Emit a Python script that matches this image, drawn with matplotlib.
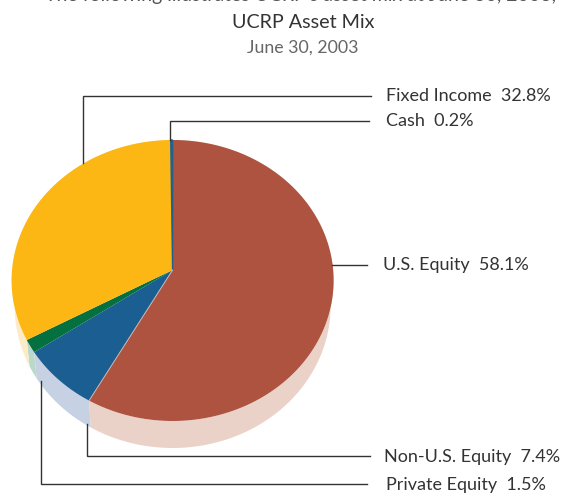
import numpy as np
import matplotlib
matplotlib.use("Agg")
import matplotlib.pyplot as plt

plt.rcParams['font.family'] = ['Lato', 'DejaVu Sans']

# clockwise from the top of the pie
categories = ["U.S. Equity", "Non-U.S. Equity", "Private Equity", "Fixed Income", "Cash"]
shares = [58.1, 7.4, 1.5, 32.8, 0.2]
top_colors = ["#AD5340", "#1B5E91", "#04703F", "#FDB714", "#22618F"]
side_colors = ["#EBD2C9", "#C6D1E3", "#BBD9CA", "#FDEBC8", "#C6D1E3"]

# pie geometry in pixels (tilted, so the apex sits above the rim's centre)
cx = 172.6
rim_cy, rim_rx, rim_ry = 280.5, 161, 140.5
apex_y = 270
base_cy, base_rx, base_ry = 306, 158, 142

fig = plt.figure(figsize=(5.61, 4.93), dpi=100)
ax = fig.add_axes([0, 0, 1, 1])
ax.set_xlim(0, 561)
ax.set_ylim(493, 0)
ax.axis("off")


def rim_angle(pct):
    # cast a ray from the apex and see where it hits the rim ellipse
    theta = np.radians(pct * 3.6)
    dx, dy = np.sin(theta), -np.cos(theta)
    y0 = (apex_y - rim_cy) / rim_ry
    b = y0 * dy
    t = -b + np.sqrt(b * b - (y0 * y0 - 1))
    return np.arctan2(t * dx, -(y0 + t * dy))


def ellipse_pts(a, cy, rx, ry):
    return cx + rx * np.sin(a), cy - ry * np.cos(a)


edges = np.concatenate([[0], np.cumsum(shares)])
for i in range(len(shares)):
    a0 = rim_angle(edges[i])
    a1 = rim_angle(edges[i + 1])
    if a1 < a0:
        a1 += 2 * np.pi
    a = np.linspace(a0, a1, 120)
    x1, y1 = ellipse_pts(a, rim_cy, rim_rx, rim_ry)
    x2, y2 = ellipse_pts(a[::-1], base_cy, base_rx, base_ry)
    ax.fill(np.r_[x1, x2], np.r_[y1, y2], color=side_colors[i], lw=0, zorder=1)

for i in range(len(shares)):
    a0 = rim_angle(edges[i])
    a1 = rim_angle(edges[i + 1])
    if a1 < a0:
        a1 += 2 * np.pi
    a = np.linspace(a0, a1, 120)
    x1, y1 = ellipse_pts(a, rim_cy, rim_rx, rim_ry)
    # the cash slice is so thin it needs an outline to show at all
    width = 1.0 if categories[i] == "Cash" else 0
    ax.fill(np.r_[cx, x1], np.r_[apex_y, y1], color=top_colors[i], lw=width, zorder=2)

# pale seam between U.S. and Non-U.S. equity
sx, sy = ellipse_pts(rim_angle(edges[1]), rim_cy, rim_rx, rim_ry)
ax.plot([cx, sx], [apex_y, sy], color="#CDB6B0", lw=0.7, zorder=3)

# leader lines
line_color = "#333333"
leaders = [
    ([83, 83, 371], [163, 96, 96]),
    ([170, 170, 369], [140, 120.5, 120.5]),
    ([332, 367], [265, 265]),
    ([87, 87, 370], [424, 456, 456]),
    ([41, 41, 367], [381, 483.5, 483.5]),
]
for xs, ys in leaders:
    ax.plot(xs, ys, color=line_color, lw=1.0, solid_joinstyle="miter", zorder=4)

# labels
text_color = "#333333"
labels = ["Fixed Income  32.8%", "Cash  0.2%", "U.S. Equity  58.1%",
          "Non-U.S. Equity  7.4%", "Private Equity  1.5%"]
label_x = [386, 386, 383, 384, 386]
label_y = [96, 121, 265, 457, 485]
for s, x, y in zip(labels, label_x, label_y):
    ax.text(x, y, s, fontsize=13.0, color=text_color, ha="left", va="center")

ax.text(303, 23, "UCRP Asset Mix", fontsize=14.2, color=text_color, ha="center", va="center")
ax.text(303, 48, "June 30, 2003", fontsize=12.8, color="#666666", ha="center", va="center")

# sentence cut off by the top of the crop
ax.text(556, 1, "The following illustrates UCRP's asset mix at June 30, 2003,", fontsize=14,
        color="#555555", ha="right", va="baseline")

fig.savefig("out.png", dpi=100)
